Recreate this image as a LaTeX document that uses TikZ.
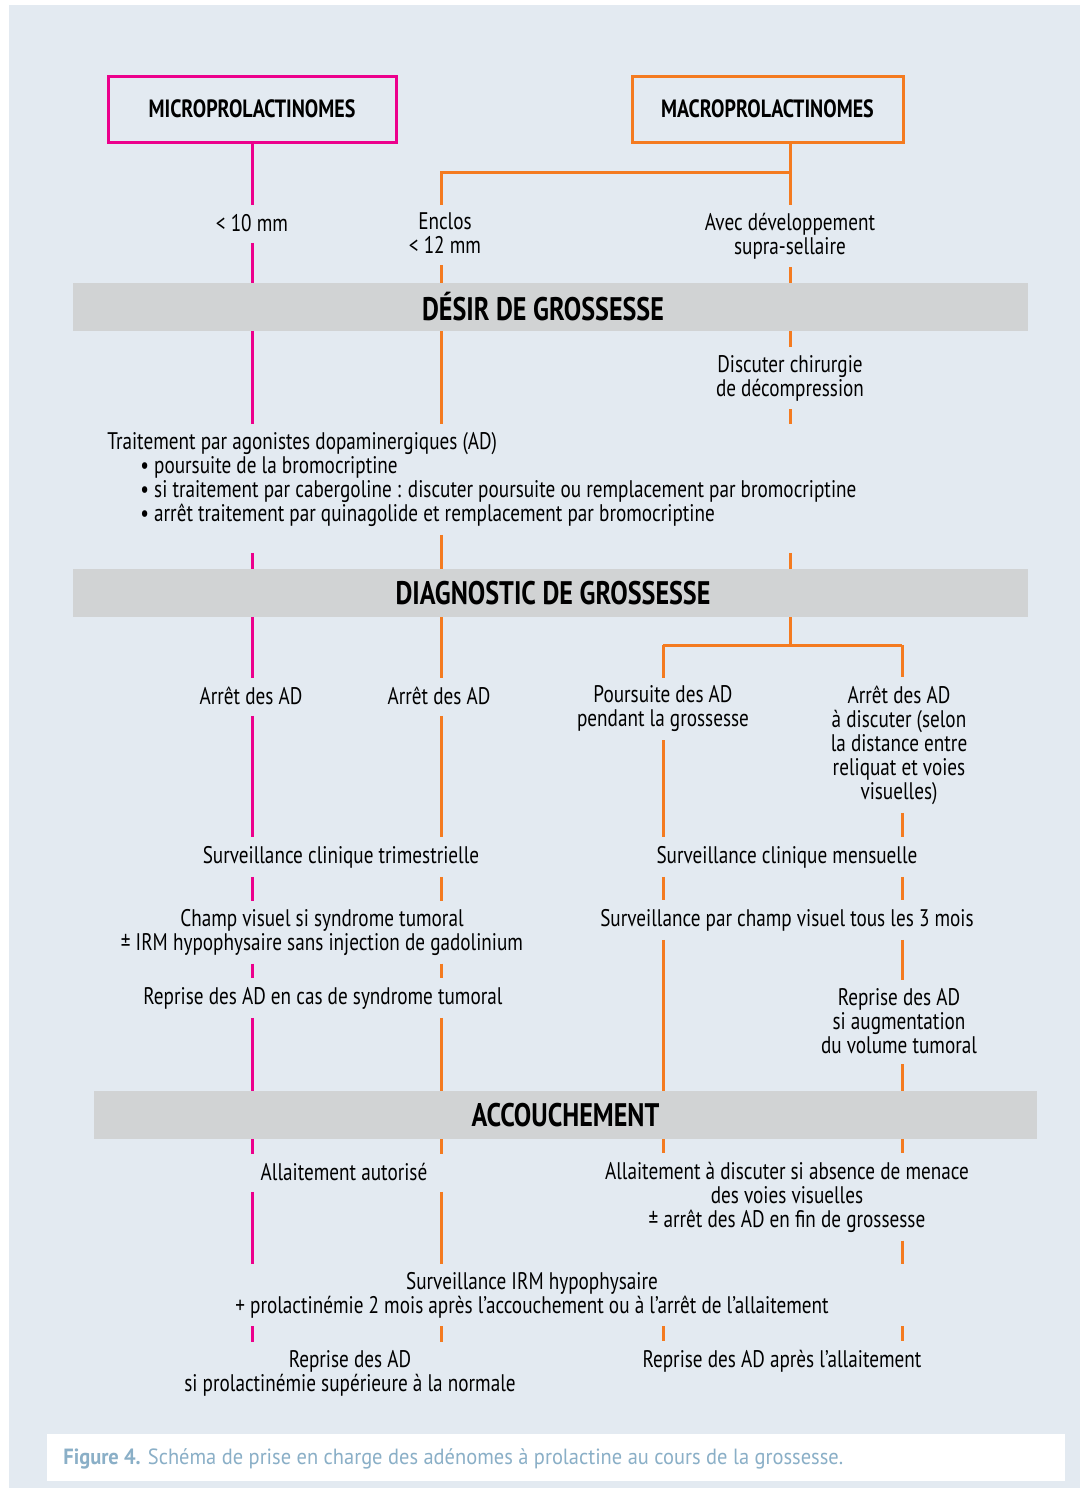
\documentclass[tikz,border=0pt]{standalone}
\usepackage{fontspec}
\setmainfont{PT Sans}[FakeStretch=0.8]
\newfontfamily\capfont{PT Sans}[FakeStretch=0.93]
\definecolor{rose}{HTML}{EC008C}
\definecolor{orng}{HTML}{F47B20}
\definecolor{fond}{HTML}{E3EAF1}
\definecolor{gris}{HTML}{D1D3D4}
\definecolor{legende}{HTML}{8AAFC7}
\newcommand\etai{\rule[-1.5pt]{0pt}{10.5pt}}
\begin{document}
\begin{tikzpicture}[x=.5pt,y=-.5pt,font=\fontsize{12}{12}\selectfont,
 txt/.style={align=center,inner xsep=2pt,inner ysep=4pt,execute at begin node=\etai,execute at end node=\etai},
 titre/.style={line width=1.5pt,minimum width=144pt,minimum height=33pt,font=\fontsize{12.5}{12}\selectfont\bfseries},
 bandeau/.style={fill=gris,minimum width=477.5pt,minimum height=24pt,inner sep=0pt,font=\fontsize{16.3}{14}\selectfont\bfseries},
 pk/.style={rose,line width=1.5pt}, og/.style={orng,line width=1.5pt}]
\fill[fond] (9,5) rectangle (1080,1488);
\useasboundingbox (0,0) rectangle (1080,1488);
\fill[white] (47,1434) rectangle (1065,1481);
\node[titre,draw=rose] (micro) at (252,109) {MICROPROLACTINOMES};
\node[titre,draw=orng,minimum width=135.5pt] (macro) at (767.5,109) {MACROPROLACTINOMES};
\node[txt] (lt10) at (252,224) {< 10 mm};
\node[txt] (enclos) at (445,235) {Enclos\\< 12 mm};
\node[txt] (avec) at (790,236) {Avec développement\\supra-sellaire};
\node[bandeau] (desir) at (550.5,307) {DÉSIR DE GROSSESSE\kern7.5pt};
\node[txt] (chir) at (790,378) {Discuter chirurgie\\de décompression};
\node[txt,align=left,anchor=north west] (trait) at (103,424) {Traitement par agonistes dopaminergiques (AD)\\
 \hspace{16.5pt}• poursuite de la bromocriptine\\
 \hspace{16.5pt}• si traitement par cabergoline : discuter poursuite ou remplacement par bromocriptine\\
 \hspace{16.5pt}• arrêt traitement par quinagolide et remplacement par bromocriptine};
\node[bandeau] (diag) at (550.5,593) {\hspace{2.5pt}DIAGNOSTIC DE GROSSESSE};
\node[txt] (a1) at (251,697) {Arrêt des AD};
\node[txt] (a2) at (439,697) {Arrêt des AD};
\node[txt] (pours) at (663,709) {Poursuite des AD\\pendant la grossesse};
\node[txt] (a3) at (899,745) {Arrêt des AD\\à discuter (selon\\la distance entre\\reliquat et voies\\visuelles)};
\node[txt] (trim) at (341,857) {Surveillance clinique trimestrielle};
\node[txt] (mens) at (787,857) {Surveillance clinique mensuelle};
\node[txt] (champ) at (322,932) {Champ visuel si syndrome tumoral\\± IRM hypophysaire sans injection de gadolinium};
\node[txt] (champ3) at (787,920) {Surveillance par champ visuel tous les 3 mois};
\node[txt] (rep1) at (323,998) {Reprise des AD en cas de syndrome tumoral};
\node[txt] (rep2) at (899,1022) {Reprise des AD\\si augmentation\\du volume tumoral};
\node[bandeau,minimum width=471.5pt] (acc) at (565.5,1115) {ACCOUCHEMENT};
\node[txt] (allA) at (344,1173) {Allaitement autorisé};
\node[txt] (allB) at (787,1197) {Allaitement à discuter si absence de menace\\des voies visuelles\\± arrêt des AD en fin de grossesse};
\node[txt] (irm) at (532,1295) {Surveillance IRM hypophysaire\\+ prolactinémie 2 mois après l’accouchement ou à l’arrêt de l’allaitement};
\node[txt] (rep3) at (350,1373) {Reprise des AD\\si prolactinémie supérieure à la normale};
\node[txt] (rep4) at (782,1361) {Reprise des AD après l’allaitement};
\node[anchor=west,inner sep=0pt,text=legende,font=\capfont\fontsize{11}{12}\selectfont] (leg) at (63,1459) {\textbf{Figure 4.} Schéma de prise en charge des adénomes à prolactine au cours de la grossesse.};
\coordinate (jd) at (441,172); \coordinate (jm) at (790,172);
\coordinate (jc) at (790,645); \coordinate (jl) at (663,645); \coordinate (jr) at (902,645);
\draw[pk] (micro.south) -- (lt10.north) (lt10.south) -- (lt10.south |- desir.north);
\draw[og] (jm |- macro.south) -- (jm) -- (jd) -- (jd |- enclos.north) (jm) -- (avec.north);
\draw[og] (jd |- enclos.south) -- (jd |- desir.north);
\draw[pk,shorten <=9pt] (micro.south |- trait.south) -- (micro.south |- diag.north);
\draw[og,shorten <=9pt] (jd |- trait.south) -- (jd |- diag.north) (jm |- trait.south) -- (jm |- diag.north);
\foreach \u/\v in {desir.south/trait.north, diag.south/a1.north, a1.south/trim.north, trim.south/champ.north, champ.south/rep1.north, rep1.south/acc.north, acc.south/allA.north, allA.south/irm.north, irm.south/rep3.north}
 {\draw[pk] (micro.south |- \u) -- (micro.south |- \v);
  \draw[og] (jd |- \u) -- (jd |- \v);}
\foreach \u/\v in {avec.south/desir.north, desir.south/chir.north, chir.south/trait.north}
 \draw[og] (jm |- \u) -- (jm |- \v);
\draw[og] (jm |- diag.south) -- (jc) (jl) -- (jr) (jl) -- (pours.north) (jr) -- (jr |- a3.north);
\foreach \u/\v in {pours.south/mens.north, mens.south/champ3.north, champ3.south/acc.north, acc.south/allB.north, irm.south/rep4.north}
 \draw[og] (jl |- \u) -- (jl |- \v);
\foreach \u/\v in {a3.south/mens.north, mens.south/champ3.north, champ3.south/rep2.north, rep2.south/acc.north, acc.south/allB.north, allB.south/irm.north, irm.south/rep4.north}
 \draw[og] (jr |- \u) -- (jr |- \v);
\end{tikzpicture}
\end{document}
